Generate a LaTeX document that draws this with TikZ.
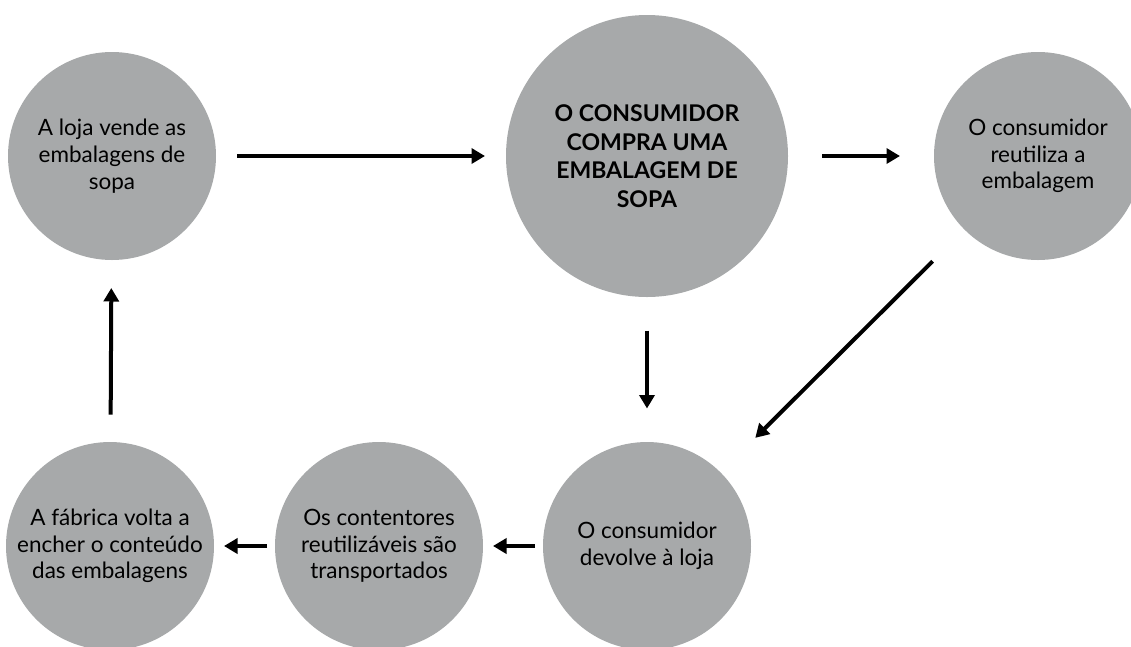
\documentclass[tikz,border=0pt]{standalone}
\usepackage{fontspec}
\setmainfont{Lato}
\usetikzlibrary{arrows.meta,positioning}
\definecolor{colStep}{RGB}{167,169,170}
\tikzset{
  stepcirc/.style = {circle, fill=colStep, inner sep=0pt, outer sep=0pt,
                     minimum size=4.16cm, align=center,
                     font=\fontsize{12.8}{15.2}\selectfont},
  bigcirc/.style  = {stepcirc, minimum size=5.64cm,
                     font=\fontsize{13.1}{16.2}\selectfont\bfseries},
  arr/.style      = {-{Triangle[length=0.27cm,width=0.3cm]}, line width=0.08cm},
}
\begin{document}
\begin{tikzpicture}

\useasboundingbox (0,0) rectangle (22.62,-12.92);

%% Top row
\node[stepcirc] (loja) at (2.24,-3.12) {A loja vende as\\embalagens de\\sopa};
\node[bigcirc, right=5.8cm of loja] (compra) {O CONSUMIDOR\\COMPRA UMA\\EMBALAGEM DE\\SOPA};
\node[stepcirc, right=2.92cm of compra] (reutiliza) {O consumidor\\reutiliza a\\embalagem};

%% Bottom row
\node[stepcirc, below=2.9cm of compra] (devolve) {O consumidor\\devolve à loja};
\node[stepcirc, left=1.2cm of devolve] (transporte) {Os contentores\\reutilizáveis são\\transportados};
\node[stepcirc, left=1.22cm of transporte] (fabrica) {A fábrica volta a\\encher o conteúdo\\das embalagens};

%% Arrows
\draw[arr, shorten <=0.42cm, shorten >=0.42cm] (loja) -- (compra);
\draw[arr, shorten <=0.68cm, shorten >=0.68cm] (compra) -- (reutiliza);
\draw[arr, shorten <=0.67cm, shorten >=0.67cm] (compra) -- (devolve);
\draw[arr, shorten <=0.9cm, shorten >=0.98cm] (reutiliza.225) -- (devolve.45);
\draw[arr, shorten <=0.16cm, shorten >=0.2cm] (devolve) -- (transporte);
\draw[arr, shorten <=0.16cm, shorten >=0.2cm] (transporte) -- (fabrica);
\draw[arr, shorten <=0.55cm, shorten >=0.56cm] (fabrica) -- (loja);

\end{tikzpicture}
\end{document}
